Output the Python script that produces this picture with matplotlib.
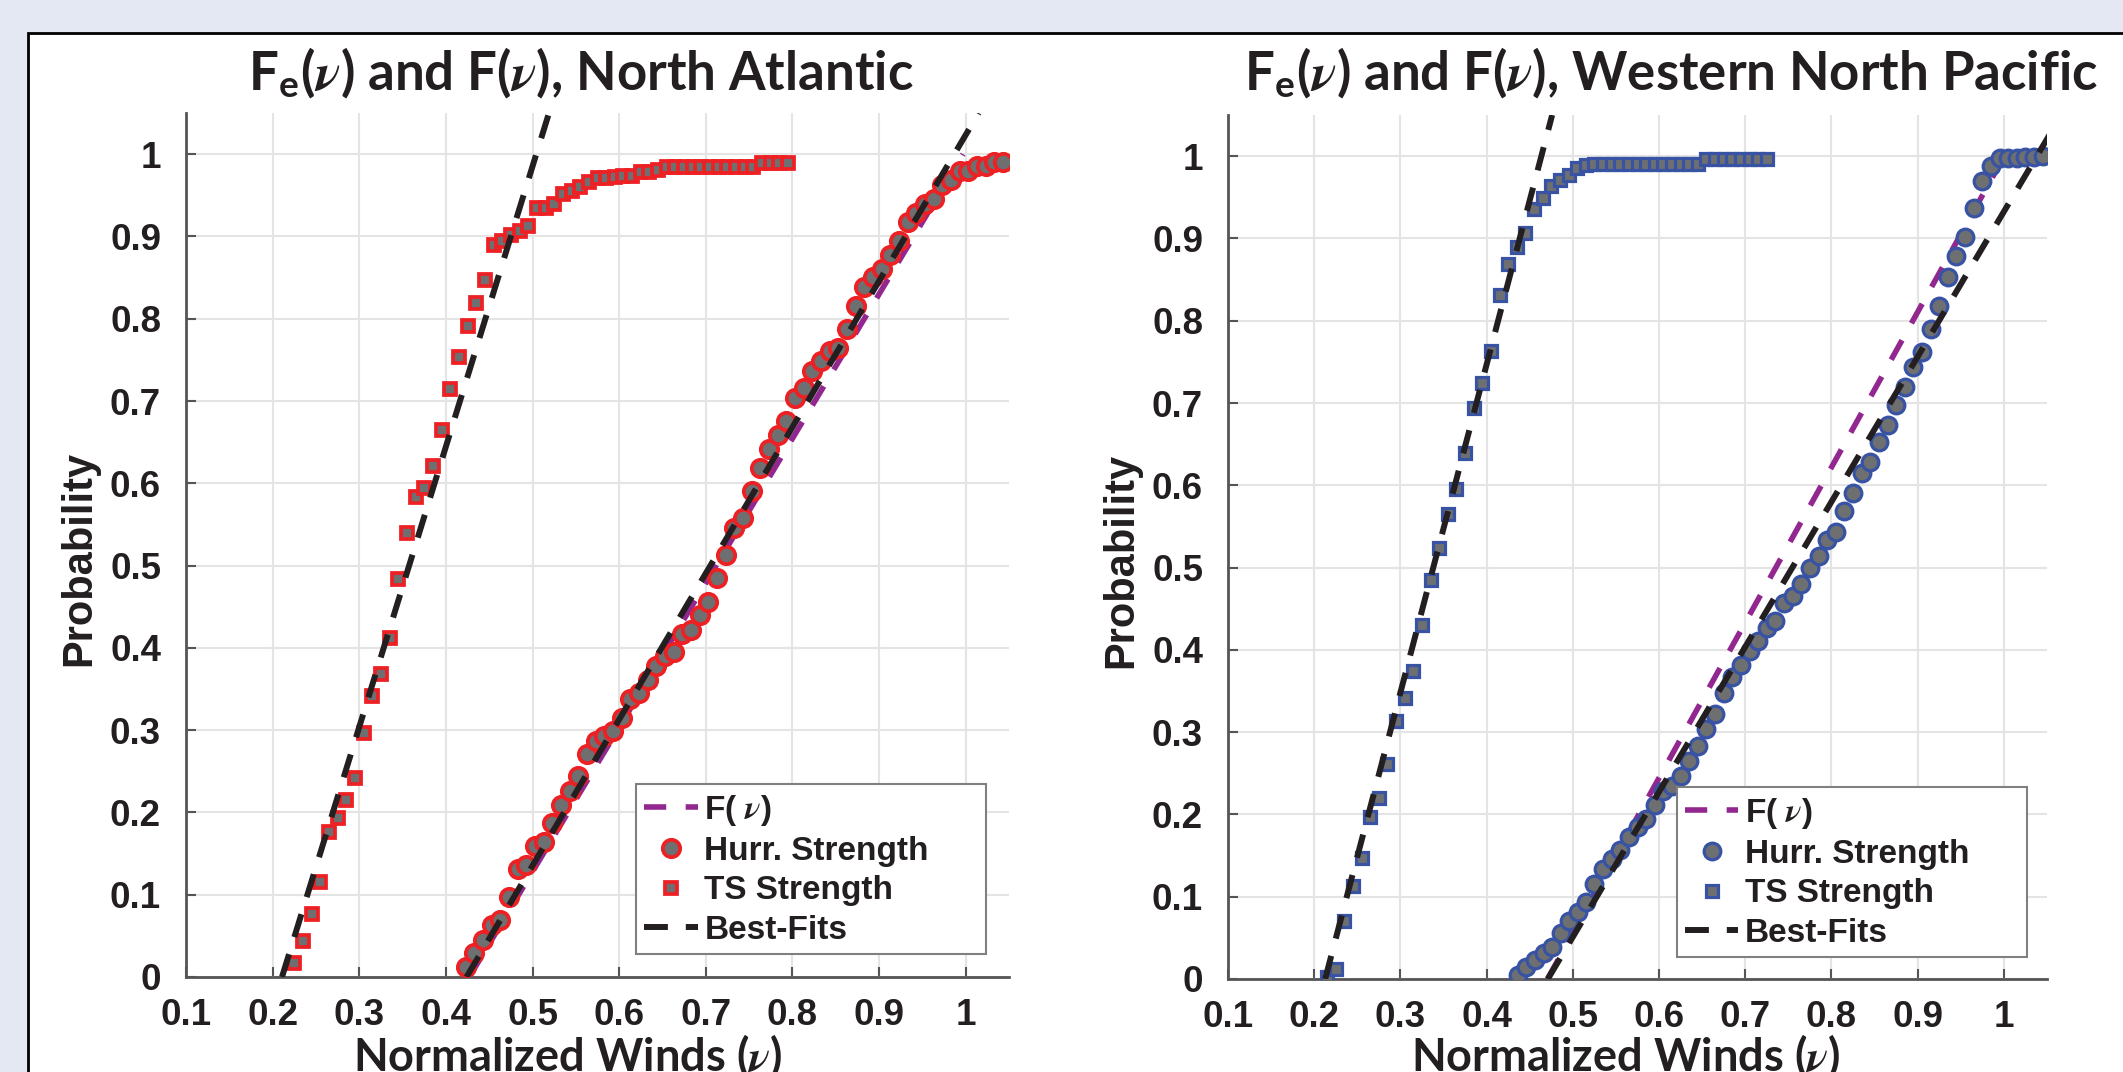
import matplotlib.pyplot as plt
from matplotlib.patches import Rectangle

plt.rcParams['font.family'] = ['Liberation Sans', 'DejaVu Sans']
plt.rcParams['font.weight'] = 'bold'
plt.rcParams['mathtext.fontset'] = 'stix'

# ---- North Atlantic ----
na_hurr_v = [0.423, 0.433, 0.443, 0.453, 0.463, 0.473, 0.483, 0.493, 0.503, 0.513,
             0.523, 0.533, 0.543, 0.553, 0.563, 0.573, 0.583, 0.593, 0.603, 0.613,
             0.623, 0.633, 0.643, 0.653, 0.663, 0.673, 0.683, 0.693, 0.703, 0.713,
             0.723, 0.733, 0.743, 0.753, 0.763, 0.773, 0.783, 0.793, 0.803, 0.813,
             0.823, 0.833, 0.843, 0.853, 0.863, 0.873, 0.883, 0.893, 0.903, 0.913,
             0.923, 0.933, 0.943, 0.953, 0.963, 0.973, 0.983, 0.993, 1.003, 1.013,
             1.023, 1.033, 1.043]
na_hurr_p = [0.012, 0.029, 0.045, 0.063, 0.069, 0.097, 0.131, 0.136, 0.159, 0.164,
             0.187, 0.209, 0.226, 0.244, 0.271, 0.287, 0.293, 0.299, 0.315, 0.338,
             0.345, 0.361, 0.378, 0.390, 0.395, 0.417, 0.422, 0.440, 0.456, 0.485,
             0.513, 0.546, 0.558, 0.591, 0.619, 0.642, 0.659, 0.676, 0.704, 0.716,
             0.737, 0.749, 0.761, 0.765, 0.788, 0.816, 0.839, 0.851, 0.861, 0.878,
             0.895, 0.917, 0.929, 0.940, 0.945, 0.962, 0.968, 0.979, 0.979, 0.985,
             0.985, 0.991, 0.991]
na_ts_v = [0.225, 0.235, 0.245, 0.255, 0.265, 0.275, 0.285, 0.295, 0.305, 0.315,
           0.325, 0.335, 0.345, 0.355, 0.365, 0.375, 0.385, 0.395, 0.405, 0.415,
           0.425, 0.435, 0.445, 0.455, 0.465, 0.475, 0.485, 0.495, 0.505, 0.515,
           0.525, 0.535, 0.545, 0.555, 0.565, 0.575, 0.585, 0.595, 0.605, 0.615,
           0.625, 0.635, 0.645, 0.655, 0.665, 0.675, 0.685, 0.695, 0.705, 0.715,
           0.725, 0.735, 0.745, 0.755, 0.765, 0.775, 0.785, 0.795]
na_ts_p = [0.017, 0.044, 0.077, 0.116, 0.176, 0.193, 0.215, 0.242, 0.297, 0.341,
           0.368, 0.412, 0.484, 0.539, 0.583, 0.594, 0.621, 0.665, 0.714, 0.753,
           0.791, 0.819, 0.847, 0.890, 0.895, 0.902, 0.907, 0.913, 0.935, 0.935,
           0.940, 0.951, 0.955, 0.960, 0.966, 0.971, 0.971, 0.972, 0.974, 0.974,
           0.978, 0.978, 0.981, 0.984, 0.984, 0.984, 0.984, 0.984, 0.984, 0.984,
           0.984, 0.984, 0.984, 0.984, 0.9895, 0.9895, 0.9895, 0.9895]
na_F_v = [0.427, 0.997]
na_F_p = [0.0, 1.0]
na_fit_hurr_v = [0.4238, 1.015]
na_fit_hurr_p = [0.0, 1.05]
na_fit_ts_v = [0.2108, 0.519]
na_fit_ts_p = [0.0, 1.05]

# ---- Western North Pacific ----
wnp_hurr_v = [0.436, 0.446, 0.456, 0.466, 0.476, 0.486, 0.496, 0.506, 0.515, 0.525,
              0.535, 0.545, 0.555, 0.565, 0.575, 0.585, 0.595, 0.605, 0.615, 0.625,
              0.635, 0.645, 0.655, 0.665, 0.675, 0.685, 0.695, 0.705, 0.715, 0.725,
              0.735, 0.745, 0.755, 0.765, 0.775, 0.785, 0.795, 0.805, 0.815, 0.825,
              0.835, 0.845, 0.855, 0.865, 0.875, 0.885, 0.895, 0.905, 0.915, 0.925,
              0.935, 0.945, 0.955, 0.965, 0.975, 0.985, 0.995, 1.005, 1.015, 1.025,
              1.035, 1.045]
wnp_hurr_p = [0.005, 0.015, 0.023, 0.031, 0.0385, 0.0555, 0.070, 0.081, 0.093, 0.116,
              0.134, 0.146, 0.157, 0.172, 0.185, 0.194, 0.212, 0.229, 0.235, 0.2465,
              0.265, 0.283, 0.304, 0.322, 0.347, 0.3665, 0.3816, 0.3985, 0.411, 0.426,
              0.435, 0.4565, 0.465, 0.4795, 0.500, 0.5135, 0.533, 0.543, 0.569, 0.591,
              0.6145, 0.6285, 0.653, 0.673, 0.697, 0.7196, 0.7443, 0.7617, 0.790, 0.8174,
              0.853, 0.879, 0.902, 0.937, 0.9696, 0.988, 0.9978, 0.9978, 0.9978, 0.999,
              0.999, 1.0]
wnp_ts_v = [0.215, 0.225, 0.235, 0.245, 0.255, 0.265, 0.275, 0.285, 0.295, 0.305,
            0.315, 0.325, 0.335, 0.345, 0.355, 0.365, 0.375, 0.385, 0.395, 0.405,
            0.415, 0.425, 0.435, 0.445, 0.455, 0.465, 0.475, 0.485, 0.495, 0.505,
            0.515, 0.525, 0.535, 0.545, 0.555, 0.565, 0.575, 0.585, 0.595, 0.605,
            0.615, 0.625, 0.635, 0.645, 0.655, 0.665, 0.675, 0.685, 0.695, 0.705,
            0.715, 0.725]
wnp_ts_p = [0.002, 0.012, 0.070, 0.113, 0.147, 0.197, 0.2205, 0.261, 0.313, 0.341,
            0.374, 0.430, 0.485, 0.524, 0.565, 0.595, 0.639, 0.6935, 0.724, 0.763,
            0.831, 0.869, 0.890, 0.9065, 0.936, 0.949, 0.964, 0.9706, 0.977, 0.985,
            0.989, 0.991, 0.991, 0.991, 0.991, 0.991, 0.991, 0.991, 0.991, 0.991,
            0.991, 0.991, 0.991, 0.991, 0.996, 0.996, 0.996, 0.996, 0.996, 0.996,
            0.996, 0.996]
wnp_F_v = [0.4705, 1.003]
wnp_F_p = [0.0, 1.005]
wnp_fit_hurr_v = [0.471, 1.0666]
wnp_fit_hurr_p = [0.0, 1.05]
wnp_fit_ts_v = [0.2127, 0.476]
wnp_fit_ts_p = [0.0, 1.05]

x_ticks = [0.1, 0.2, 0.3, 0.4, 0.5, 0.6, 0.7, 0.8, 0.9, 1.0]
x_tick_labels = ['0.1', '0.2', '0.3', '0.4', '0.5', '0.6', '0.7', '0.8', '0.9', '1']
y_ticks = [0, 0.1, 0.2, 0.3, 0.4, 0.5, 0.6, 0.7, 0.8, 0.9, 1.0]
y_tick_labels = ['0', '0.1', '0.2', '0.3', '0.4', '0.5', '0.6', '0.7', '0.8', '0.9', '1']
legend_labels = [r'F( $\nu$)', 'Hurr. Strength', 'TS Strength', 'Best-Fits']

gray = '#6e6f71'
purple = '#92278f'
black = '#231f20'
W, H = 2123, 1072

fig = plt.figure(figsize=(W / 100, H / 100), dpi=100)
fig.patch.set_facecolor('#e3e8f2')
panel = Rectangle((28 / W, -0.1), 1.2, 1 - 33 / H + 0.1, transform=fig.transFigure,
                  facecolor='white', edgecolor='black', lw=2, zorder=-5)
fig.patches.append(panel)


def draw_panel(rect, hurr_v, hurr_p, ts_v, ts_p, F_v, F_p, fh_v, fh_p, ft_v, ft_p,
               edge, ms_c, ms_s, mew, leg_box):
    ax = fig.add_axes(rect, zorder=2)
    ax.patch.set_alpha(0)
    lf, = ax.plot(F_v, F_p, color=purple, lw=4.0, dashes=(4, 3.5), zorder=2)
    lc, = ax.plot(hurr_v, hurr_p, 'o', ms=ms_c, mfc=gray, mec=edge, mew=mew, zorder=3)
    ls, = ax.plot(ts_v, ts_p, 's', ms=ms_s, mfc=gray, mec=edge, mew=mew, zorder=3)
    lb, = ax.plot(ft_v, ft_p, color=black, lw=4.3, dashes=(4, 3), zorder=4)
    ax.plot(fh_v, fh_p, color=black, lw=4.3, dashes=(4, 3), zorder=4)

    ax.set_xlim(0.1, 1.05)
    ax.set_ylim(0, 1.05)
    ax.set_xticks(x_ticks)
    ax.set_xticklabels(x_tick_labels)
    ax.set_yticks(y_ticks)
    ax.set_yticklabels(y_tick_labels)
    ax.grid(True, color='#e4e4e4', lw=1.5)
    ax.set_axisbelow(True)
    for s in ['top', 'right']:
        ax.spines[s].set_visible(False)
    for s in ['left', 'bottom']:
        ax.spines[s].set_color('#555555')
        ax.spines[s].set_linewidth(2)
    ax.tick_params(direction='in', length=7, width=1.5, color='#555555',
                   labelsize=26.5, labelcolor='#231f20')
    ax.tick_params(axis='x', pad=15)
    ax.tick_params(axis='y', pad=18)
    ax.set_ylabel('Probability', fontsize=30, fontweight='bold', color='#231f20')
    ax.yaxis.set_label_coords(-0.106, 0.485)

    leg = ax.legend([lf, lc, ls, lb], legend_labels, loc='lower left',
                    bbox_to_anchor=leg_box, mode='expand', borderaxespad=0,
                    fontsize=24, fancybox=False, framealpha=1, edgecolor='#808080',
                    handlelength=1.6, handletextpad=0.2, labelspacing=0.25,
                    borderpad=0.25, numpoints=1)
    leg.get_frame().set_linewidth(1.5)
    for t in leg.get_texts():
        t.set_color('#231f20')
    return ax


draw_panel([186 / W, 1 - 977 / H, 823 / W, 864 / H],
           na_hurr_v, na_hurr_p, na_ts_v, na_ts_p, na_F_v, na_F_p,
           na_fit_hurr_v, na_fit_hurr_p, na_fit_ts_v, na_fit_ts_p,
           '#ed2024', 12.5, 8, 2.7, (0.5468, 0.0266, 0.425, 0.2))
draw_panel([1228 / W, 1 - 979 / H, 819 / W, 864 / H],
           wnp_hurr_v, wnp_hurr_p, wnp_ts_v, wnp_ts_p, wnp_F_v, wnp_F_p,
           wnp_fit_hurr_v, wnp_fit_hurr_p, wnp_fit_ts_v, wnp_fit_ts_p,
           '#3953a4', 12, 8, 2.3, (0.548, 0.0255, 0.428, 0.2))

title_font = dict(family=['Lato', 'DejaVu Sans'], fontweight='bold', color='#231f20')
fig.text(581 / W, 1 - 89 / H, r'F$_{\mathregular{e}}$($\nu$) and F($\nu$), North Atlantic',
         ha='center', va='baseline', fontsize=38, **title_font)
fig.text(1671 / W, 1 - 89 / H, r'F$_{\mathregular{e}}$($\nu$) and F($\nu$), Western North Pacific',
         ha='center', va='baseline', fontsize=38, **title_font)
fig.text(568 / W, 1 - 1071 / H, r'Normalized Winds ($\nu$)',
         ha='center', va='baseline', fontsize=32.5, **title_font)
fig.text(1626 / W, 1 - 1071 / H, r'Normalized Winds ($\nu$)',
         ha='center', va='baseline', fontsize=32.5, **title_font)

fig.savefig('out.png', dpi=100, facecolor=fig.get_facecolor())
